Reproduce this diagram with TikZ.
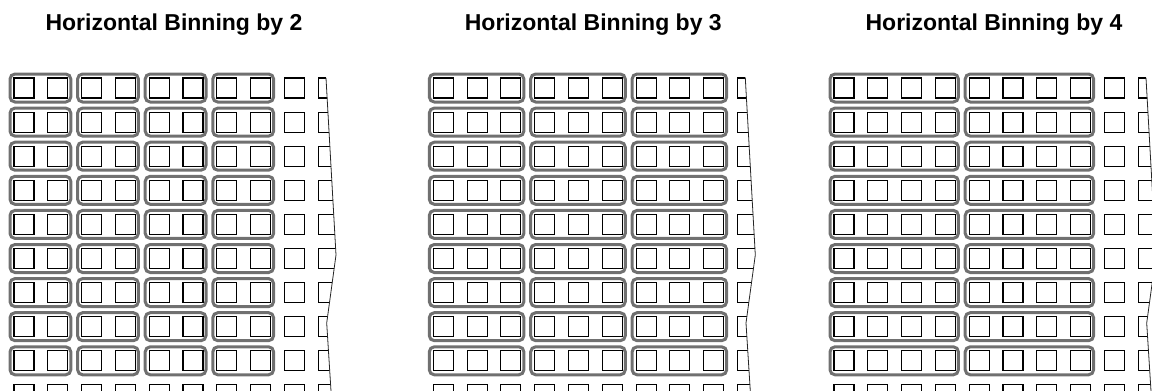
\documentclass[tikz,border=0pt]{standalone}
\usepackage{fontspec}
\setmainfont{Liberation Sans}
\definecolor{bingray}{RGB}{112,112,112}
\begin{document}
\begin{tikzpicture}[x=1pt,y=-1pt,
  pixel/.style={draw=black,line width=1.1pt},
  binbox/.style={draw=bingray,line width=3pt,rounded corners=5pt},
  cutline/.style={draw=black!85,line width=0.8pt},
  paneltitle/.style={font=\bfseries\fontsize{23}{27}\selectfont,inner sep=0pt}]
\useasboundingbox (0,0) rectangle (1152,391);
\clip (0,0) rectangle (1152,391);
\foreach \xo/\g/\n/\lab in {14/2/4/2, 433.3/3/3/3, 834/4/2/4} {
  \node[paneltitle] (t\lab) at (\xo+160, 25) {Horizontal Binning by \lab};
  \foreach \r in {0,...,8} {
    \foreach \k in {1,...,\n} {
      \pgfmathsetmacro\ca{(\k-1)*\g}
      \pgfmathsetmacro\cb{\k*\g-1}
      \draw[binbox] (\xo+33.8*\ca-4, 78+34.1*\r-4) rectangle (\xo+33.8*\cb+23, 78+34.1*\r+24);
    }
  }
  \foreach \r in {0,...,9}
    \foreach \c in {0,...,8}
      \draw[pixel] (\xo+33.8*\c, 78+34.1*\r) rectangle ++(20,20);
  \begin{scope}
    \clip (\xo+290,60) -- (\xo+311.5,60) -- (\xo+312,78) -- (\xo+322,255) -- (\xo+312.7,323) -- (\xo+317,391) -- (\xo+317.5,400) -- (\xo+290,400) -- cycle;
    \foreach \r in {0,...,9}
      \draw[pixel] (\xo+33.8*9, 78+34.1*\r) rectangle ++(20,20);
  \end{scope}
  \draw[cutline] (\xo+312,78) -- (\xo+322,255) -- (\xo+312.7,323) -- (\xo+317,391) -- (\xo+317.5,400);
}
\end{tikzpicture}
\end{document}
